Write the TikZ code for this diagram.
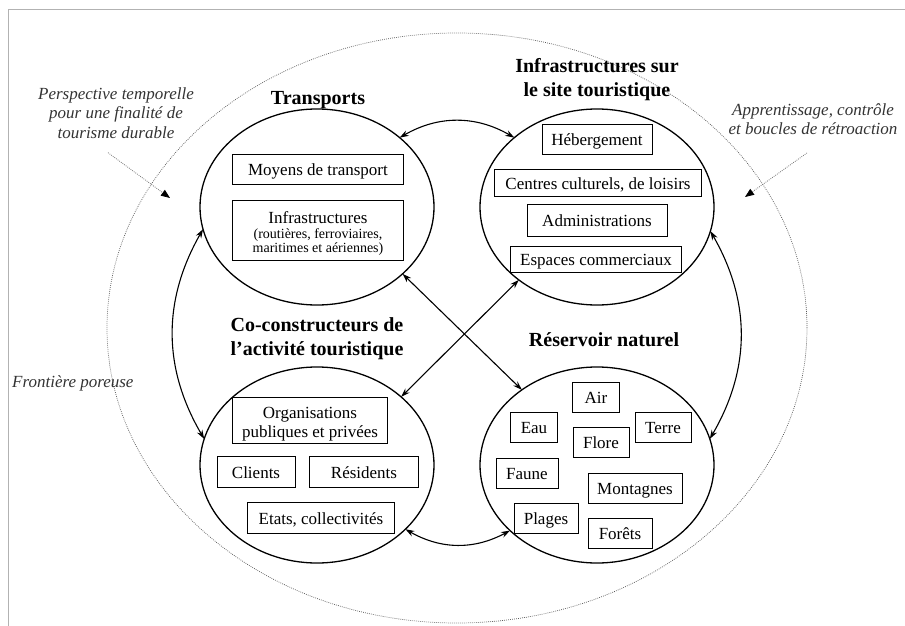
\documentclass[tikz,border=0pt]{standalone}
\usepackage{fontspec}
\setmainfont{Liberation Serif}
\usepackage{tikz}
\usetikzlibrary{shapes.geometric,arrows.meta,positioning}

\newcommand{\petit}{\fontsize{14}{15.5}\selectfont}

\begin{document}
\begin{tikzpicture}[x=1pt, y=-1pt,
	every node/.style={font=\fontsize{17}{19.5}\selectfont},
	zone/.style={draw, ellipse, line width=1.3pt, minimum width=234pt, minimum height=196pt, inner sep=0pt, outer sep=0pt},
	titre/.style={font=\fontsize{20}{24}\selectfont\bfseries, align=center},
	boite/.style={draw, line width=1pt, inner sep=0pt, minimum height=30pt, text height=12pt, text depth=0pt, align=center},
	lien/.style={{Stealth[length=9pt,width=6pt]}-{Stealth[length=9pt,width=6pt]}, line width=1.1pt},
	note/.style={font=\fontsize{17}{19.5}\selectfont\itshape, text=black!80, align=center, inner sep=0pt},
	renvoi/.style={black!55, line width=0.8pt, dash pattern=on 0.8pt off 1.2pt, -{Triangle[length=9pt,width=7pt,color=black]}}]
	\useasboundingbox (0,0) rectangle (905,626);
	\draw[black!30, line width=1pt] (8,626) -- (8,10) -- (905,10);
	
	% frontiere et les quatre zones
	\node[draw, ellipse, black!65, line width=0.7pt, dash pattern=on 0.8pt off 1.2pt, minimum width=700pt, minimum height=590pt, inner sep=0pt] (frontiere) at (457,328) {};
	\node[zone] (trans) at (317,207) {};
	\node[zone] (site) at (597,207) {};
	\node[zone] (acteurs) at (317,465) {};
	\node[zone] (nature) at (597,465) {};
	
	\node[titre, anchor=base] (tTrans) at (318,104) {Transports};
	\node[titre] (tSite) at (597,80) {Infrastructures sur\\le site touristique};
	\node[titre] (tActeurs) at (317,339) {Co-constructeurs de\\l’activité touristique};
	\node[titre, anchor=base] (tNature) at (604,346) {Réservoir naturel};
	
	% transports
	\node[boite, minimum width=171pt] (moyens) at (318,169) {Moyens de transport};
	\node[boite, minimum width=171pt, minimum height=60pt, text height=45pt] (infra) at (318,230) {Infrastructures\\[-4.5pt]\petit (routières, ferroviaires,\\[-5pt]\petit maritimes et aériennes)};
	
	% infrastructures sur le site
	\node[boite, minimum width=110pt] (heberg) at (597,139) {Hébergement};
	\node[boite, minimum width=207pt, minimum height=27pt] (centres) at (598,183) {Centres culturels, de loisirs};
	\node[boite, minimum width=140pt, minimum height=32pt] (admin) at (597,220) {Administrations};
	\node[boite, minimum width=171pt, minimum height=26pt] (commerces) at (596,259) {Espaces commerciaux};
	
	% co-constructeurs
	\node[boite, minimum width=155pt, minimum height=46pt, text height=35pt] (orga) at (310,420) {Organisations\\publiques et privées};
	\node[boite, minimum width=78pt, minimum height=31pt] (clients) at (256,472) {Clients};
	\node[boite, minimum width=109pt, minimum height=31pt] (residents) at (364,472) {Résidents};
	\node[boite, minimum width=147pt, minimum height=31pt] (etats) at (321,518) {Etats, collectivités};
	
	% reservoir naturel
	\foreach \nom/\mot/\px/\py/\lg in {air/Air/596/397/47, eau/Eau/534/427/47, terre/Terre/663/427/56, flore/Flore/601/442/56, faune/Faune/527/473/62, montagnes/Montagnes/635/488/94, plages/Plages/546/518/64, forets/Forêts/620/533/64} {
		\node[boite, minimum width=\lg pt] (\nom) at (\px,\py) {\mot};
	}
	
	% liens entre les zones
	\draw[lien] (trans.40) to[bend left=30] (site.140);
	\draw[lien] (trans.191) to[bend right=30] (acteurs.167);
	\draw[lien] (site.-12) to[bend left=30] (nature.13);
	\draw[lien] (acteurs.-36) to[bend right=29] (nature.217);
	\draw[lien] (trans.-38) -- (nature.135);
	\draw[lien] (site.223) -- (acteurs.39);
	
	% notes
	\node[note] (perspective) at (116,113) {Perspective temporelle\\pour une finalité de\\tourisme durable};
	\node[note] (apprentissage) at (813,119) {Apprentissage, contrôle\\et boucles de rétroaction};
	\node[note, anchor=base west] (poreuse) at (12,387) {Frontière poreuse};
	\coordinate (pointeG) at (170,198);
	\coordinate (pointeD) at (745,197);
	\draw[renvoi] ([shift={(-8,14)}]perspective.south) -- (pointeG);
	\draw[renvoi] ([shift={(-6,18)}]apprentissage.south) -- (pointeD);
\end{tikzpicture}
\end{document}
